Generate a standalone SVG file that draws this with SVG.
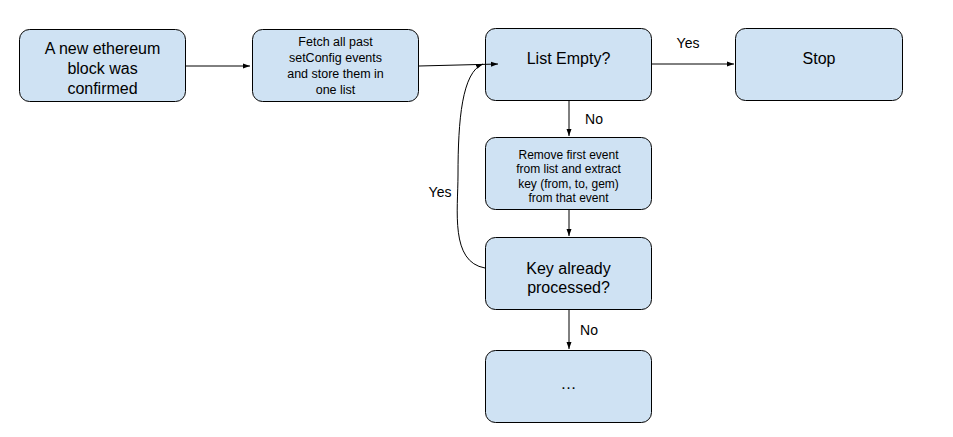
<svg xmlns="http://www.w3.org/2000/svg" width="953" height="437" viewBox="0 0 953 437">
<defs>
<style>
.box{fill:#cfe2f3;stroke:#000;stroke-width:1}
text{font-family:"Liberation Sans",Arial,sans-serif;fill:#000;text-anchor:middle}
.l{font-size:16px}
.m{font-size:12.5px}
.s{font-size:12px}
.y{font-size:14px}
.c{fill:none;stroke:#000;stroke-width:1}
</style>
<marker id="a" markerWidth="8" markerHeight="6" refX="7" refY="3" orient="auto" markerUnits="userSpaceOnUse">
<path d="M0,0.5 L7,3 L0,5.5 Z" fill="#000"/>
</marker>
</defs>
<rect width="953" height="437" fill="#fff"/>
<g id="n1"><rect class="box" x="19.5" y="29.5" width="166" height="72" rx="10"/>
<text class="l" x="102.5" y="54">A new ethereum</text>
<text class="l" x="102.5" y="74">block was</text>
<text class="l" x="102.5" y="94">confirmed</text></g>
<g id="n2"><rect class="box" x="252.5" y="29.5" width="166" height="72" rx="10"/>
<text class="m" x="335.5" y="46">Fetch all past</text>
<text class="m" x="335.5" y="62">setConfig events</text>
<text class="m" x="335.5" y="78">and store them in</text>
<text class="m" x="335.5" y="94">one list</text></g>
<g id="n3"><rect class="box" x="485.5" y="28.5" width="166" height="72" rx="10"/>
<text class="l" x="568.5" y="64">List Empty?</text></g>
<g id="n4"><rect class="box" x="735.5" y="28.5" width="167" height="72" rx="10"/>
<text class="l" x="819" y="64">Stop</text></g>
<g id="n5"><rect class="box" x="485.5" y="137.5" width="166" height="72" rx="10"/>
<text class="s" x="568.5" y="158.5">Remove first event</text>
<text class="s" x="568.5" y="173">from list and extract</text>
<text class="s" x="568.5" y="187.5">key (from, to, gem)</text>
<text class="s" x="568.5" y="202">from that event</text></g>
<g id="n6"><rect class="box" x="485.5" y="237.5" width="166" height="72" rx="10"/>
<text class="l" x="568.5" y="274">Key already</text>
<text class="l" x="568.5" y="293">processed?</text></g>
<g id="n7"><rect class="box" x="485.5" y="350.5" width="166" height="72" rx="10"/>
<text class="l" x="568.5" y="389" fill="#333">…</text></g>
<g id="connectors">
<path class="c" d="M186,66 L250,66" marker-end="url(#a)"/>
<path class="c" d="M419,66 L498,64" marker-end="url(#a)"/>
<path class="c" d="M652,64 L734,64" marker-end="url(#a)"/>
<path class="c" d="M569,101 L569,136" marker-end="url(#a)"/>
<path class="c" d="M569,210 L569,236" marker-end="url(#a)"/>
<path class="c" d="M569,310 L569,349" marker-end="url(#a)"/>
<path class="c" d="M485,268 C450,262 458,210 458,175 C458,120 462,72 483,64" marker-end="url(#a)"/>
<text class="y" x="688" y="48">Yes</text>
<text class="y" x="594" y="124">No</text>
<text class="y" x="589" y="335">No</text>
<text class="y" x="440" y="197">Yes</text>
</g>
</svg>
